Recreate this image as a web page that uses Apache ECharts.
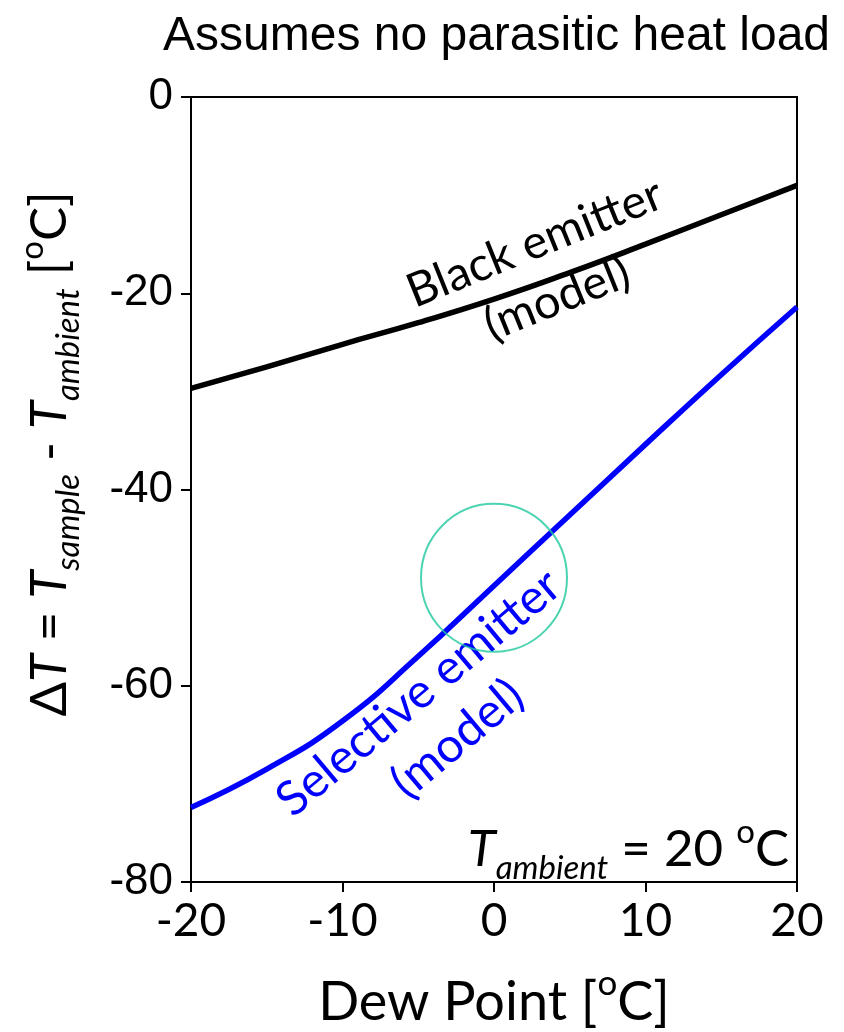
<!DOCTYPE html>
<html>
<head>
    <meta charset="utf-8">
    <style>
        html, body {
            height: 100%;
            margin: 0;
            padding: 0;
            background: #ffffff;
        }

        .container {
            width: 844px;
            height: 1032px;
        }
    </style>
</head>
<body>
<div id="main" class="container"></div>

<script src="https://cdn.jsdelivr.net/npm/echarts@6/dist/echarts.min.js"></script>
<script type="text/javascript">
// dew point (x) and the two model curves (y)
var dewPoint = [-20, -15, -10, -5, 0, 5, 10, 15, 20];
var blackEmitter = [-29.7, -27.5, -25.2, -23.0, -20.6, -17.9, -15.0, -12.0, -9.0];
var selectiveEmitter = [-72.4, -68.5, -63.6, -57.0, -49.8, -42.6, -35.4, -28.3, -21.4];
// highlighted point (circle)
var circlePoint = [0, -49];
var xTicks = [-20, -10, 0, 10, 20];
var yTicks = [-80, -60, -40, -20, 0];

var chart = echarts.init(document.getElementById('main'), null, {renderer: 'canvas'});

var sansA = 'Liberation Sans';
var sansB = 'Lato';

function pairs(xs, ys) {
    var out = [];
    for (var i = 0; i < xs.length; i++) {
        out.push([xs[i], ys[i]]);
    }
    return out;
}

// rich styles for sub/superscripts
function richSet(size, color) {
    var L = Math.round(size * 1.36);
    var small = Math.round(size * 0.64);
    return {
        n: {fontFamily: sansB, fontSize: size, color: color, lineHeight: L},
        i: {fontFamily: sansB, fontSize: size, color: color, lineHeight: L, fontStyle: 'italic'},
        sub: {fontFamily: sansB, fontSize: small, color: color, fontStyle: 'italic',
              lineHeight: L - Math.round(size * 0.62), verticalAlign: 'bottom'},
        sup: {fontFamily: sansB, fontSize: small, color: color,
              lineHeight: Math.round(size * 0.62), verticalAlign: 'top'}
    };
}

var option = {
    backgroundColor: '#ffffff',
    animation: false,
    title: {
        text: 'Assumes no parasitic heat load',
        left: 158,
        top: 8,
        textStyle: {
            fontFamily: sansA,
            fontSize: 48,
            fontWeight: 'normal',
            color: '#000'
        }
    },
    grid: {
        left: 191,
        right: 47,
        top: 97,
        bottom: 150,
        outerBoundsMode: 'none',
        containLabel: false,
        show: true,
        borderColor: '#000',
        borderWidth: 2,
        backgroundColor: 'transparent'
    },
    xAxis: {
        type: 'value',
        min: -20,
        max: 20,
        interval: 10,
        name: '{n|Dew Point [}{sup|o}{n|C]}',
        nameLocation: 'middle',
        nameGap: 84,
        nameTextStyle: {rich: richSet(54, '#000')},
        axisLine: {show: true, onZero: false, lineStyle: {color: '#000', width: 2}},
        axisTick: {show: true, length: 10, lineStyle: {color: '#000', width: 2}},
        splitLine: {show: false},
        axisLabel: {
            margin: 16,
            fontFamily: sansB,
            fontSize: 46,
            color: '#000',
            formatter: function (v) { return xTicks.indexOf(v) >= 0 ? String(v) : ''; }
        }
    },
    yAxis: {
        type: 'value',
        min: -80,
        max: 0,
        interval: 20,
        axisLine: {show: true, onZero: false, lineStyle: {color: '#000', width: 2}},
        axisTick: {show: true, length: 10, lineStyle: {color: '#000', width: 2}},
        splitLine: {show: false},
        axisLabel: {
            margin: 18,
            fontFamily: sansA,
            fontSize: 44,
            color: '#000',
            formatter: function (v) { return yTicks.indexOf(v) >= 0 ? String(v) : ''; }
        }
    },
    graphic: [
        {
            type: 'text',
            x: 50,
            y: 454,
            rotation: Math.PI / 2,
            style: {
                text: '{n|\u0394}{i|T}{n| = }{i|T}{sub|sample}{n| - }{i|T}{sub|ambient}{n| [}{sup|o}{n|C]}',
                rich: richSet(51, '#000'),
                align: 'center',
                verticalAlign: 'middle'
            }
        },
        {
            type: 'text',
            x: 546,
            y: 271,
            rotation: 22 * Math.PI / 180,
            style: {
                text: 'Black emitter\n(model)',
                fontFamily: sansB,
                fontSize: 47,
                lineHeight: 60,
                fill: '#000',
                align: 'center',
                verticalAlign: 'middle'
            }
        },
        {
            type: 'text',
            x: 438,
            y: 716,
            rotation: 40 * Math.PI / 180,
            style: {
                text: 'Selective emitter\n(model)',
                fontFamily: sansB,
                fontSize: 48,
                lineHeight: 60,
                fill: '#0000ff',
                align: 'center',
                verticalAlign: 'middle'
            }
        },
        {
            type: 'text',
            x: 789,
            y: 850,
            style: {
                text: '{i|T}{sub|ambient}{n| = 20 }{sup|o}{n|C}',
                rich: richSet(51, '#000'),
                align: 'right',
                verticalAlign: 'middle'
            }
        }
    ],
    series: [
        {
            name: 'Black emitter',
            type: 'line',
            smooth: true,
            showSymbol: false,
            data: pairs(dewPoint, blackEmitter),
            lineStyle: {color: '#000000', width: 5.5},
            z: 3
        },
        {
            name: 'Selective emitter',
            type: 'line',
            smooth: true,
            showSymbol: false,
            data: pairs(dewPoint, selectiveEmitter),
            lineStyle: {color: '#0000ff', width: 5.5},
            z: 3
        },
        {
            name: 'Highlight',
            type: 'scatter',
            data: [circlePoint],
            symbol: 'circle',
            symbolSize: [146, 148],
            itemStyle: {color: 'rgba(0,0,0,0)', borderColor: '#1fc89e', borderWidth: 2},
            z: 4
        }
    ]
};

chart.setOption(option);
</script>
</body>
</html>
